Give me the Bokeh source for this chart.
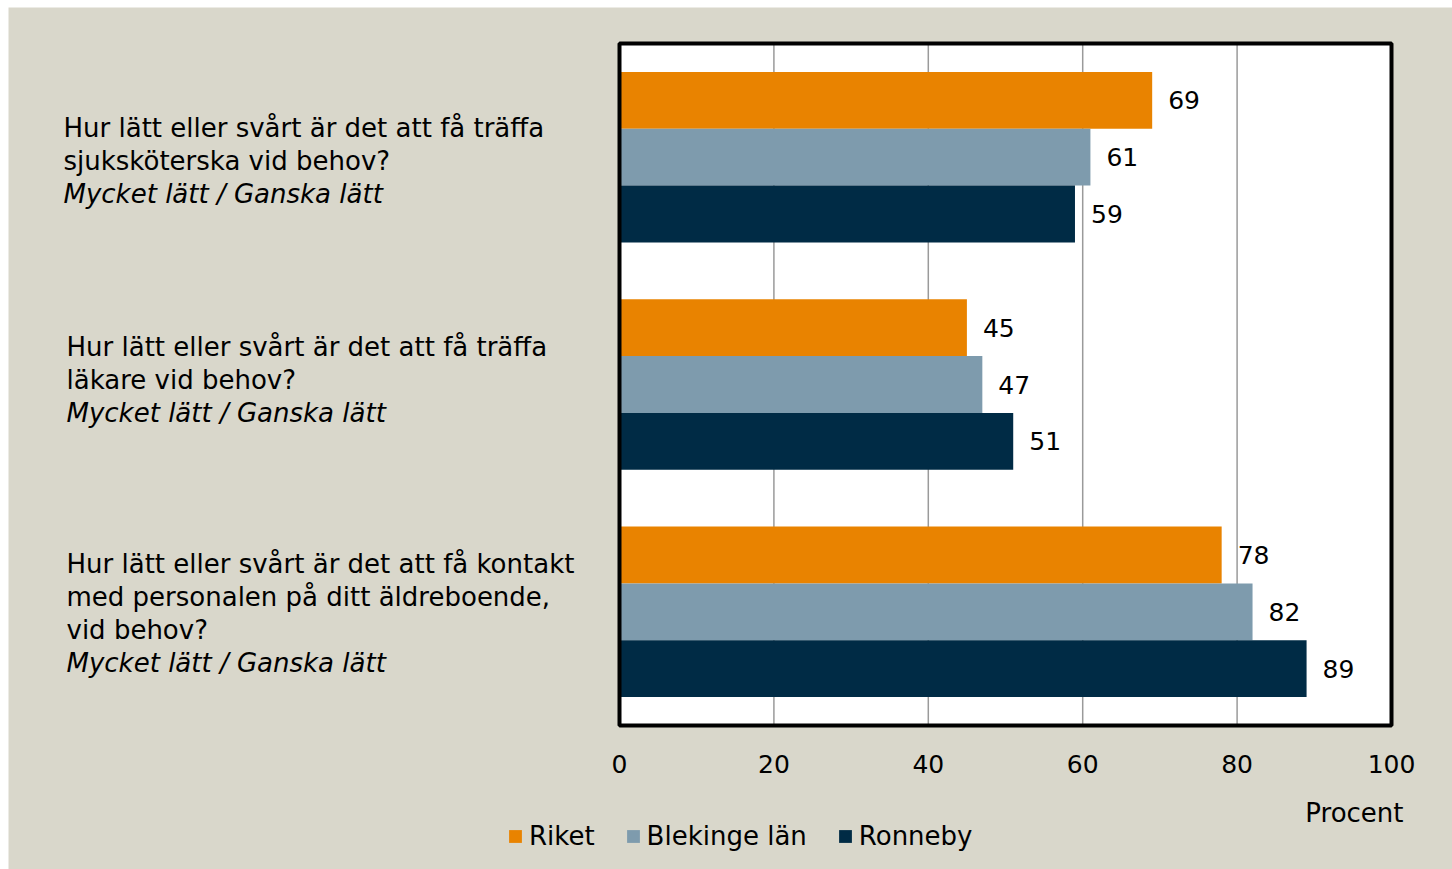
from bokeh.plotting import figure
from bokeh.models import Range1d, Legend, LegendItem, ColumnDataSource
from bokeh.core.properties import value
from bokeh.embed import file_html
from bokeh.resources import INLINE

# ---- data ----
questions = [
    ["Hur lätt eller svårt är det att få träffa", "sjuksköterska vid behov?"],
    ["Hur lätt eller svårt är det att få träffa", "läkare vid behov?"],
    ["Hur lätt eller svårt är det att få kontakt", "med personalen på ditt äldreboende,", "vid behov?"],
]
subtitle = "Mycket lätt / Ganska lätt"
series = ["Riket", "Blekinge län", "Ronneby"]
riket = [69, 45, 78]
blekinge = [61, 47, 82]
ronneby = [59, 51, 89]
x_ticks = [0, 20, 40, 60, 80, 100]
x_label = "Procent"

colors = ["#E98300", "#7E9BAD", "#002B45"]
FONT = "DejaVu Sans"
FS = "26px"      # words
FN = "25px"      # numbers
BG = "#D9D7CB"

# ---- geometry (pixels of the page) ----
W, H = 1452, 869
FL, FT = 8, 7                 # beige panel starts here
PX0, PX100 = 619, 1391        # plot area x = 0 and x = 100
PY_TOP, PY_BOT = 43, 725      # plot area top / bottom
n = len(questions)
sx = (PX100 - PX0) / 100.0
sy = (PY_BOT - PY_TOP) / n

x_range = Range1d((FL - PX0) / sx, (W - PX0) / sx)
y_range = Range1d(-(H - PY_BOT) / sy, n + (PY_TOP - FT) / sy)

p = figure(width=W, height=H, output_backend="svg", toolbar_location=None,
           x_range=x_range, y_range=y_range,
           min_border_left=FL, min_border_top=FT, min_border_right=0, min_border_bottom=0)
p.border_fill_color = "white"
p.background_fill_color = BG
p.outline_line_color = None
p.axis.visible = False
p.grid.visible = False

# plot area (white with black frame)
p.quad(left=[x_ticks[0]], right=[x_ticks[-1]], bottom=[0], top=[n],
       fill_color="white", line_color=None)
# vertical gridlines
p.segment(x0=x_ticks[1:-1], x1=x_ticks[1:-1], y0=[0] * (len(x_ticks) - 2),
          y1=[n] * (len(x_ticks) - 2), line_color="#9A9A9A", line_width=1.5)

centers = [n - 0.5 - i for i in range(n)]
offsets = [0.25, 0.0, -0.25]
all_vals = [riket, blekinge, ronneby]

renderers = []
for vals, col, off in zip(all_vals, colors, offsets):
    src = ColumnDataSource(dict(y=[c + off for c in centers], v=vals,
                                t=[str(v) for v in vals]))
    r = p.hbar(y="y", right="v", left=0, height=0.25, source=src,
               fill_color=col, line_color=None)
    renderers.append(r)
    p.text(x="v", y="y", text="t", source=src, x_offset=16, text_baseline="middle",
           text_align="left", text_font=value(FONT), text_font_size=FN, text_color="black")

# frame border on top of bars
p.quad(left=[x_ticks[0]], right=[x_ticks[-1]], bottom=[0], top=[n],
       fill_color=None, line_color="black", line_width=4)

# x tick labels
p.text(x=x_ticks, y=[-(763 - PY_BOT) / sy] * len(x_ticks), text=[str(t) for t in x_ticks],
       text_align="center", text_baseline="middle", text_font=value(FONT),
       text_font_size=FN, text_color="black")
# axis title
p.text(x=[(1403 - PX0) / sx], y=[-(812 - PY_BOT) / sy], text=[x_label],
       text_align="right", text_baseline="middle", text_font=value(FONT),
       text_font_size=FS, text_color="black")

# category labels (left of plot)
xpix = [63, 66, 66]
shift = [3.5, -5.0, 1.5]
LS = 33
for i, (lines, c) in enumerate(zip(questions, centers)):
    all_lines = lines + [subtitle]
    k = len(all_lines)
    ys = [c - (shift[i] + (j - (k - 1) / 2) * LS) / sy for j in range(k)]
    xs = [(xpix[i] - PX0) / sx] * k
    p.text(x=xs[:-1], y=ys[:-1], text=all_lines[:-1], text_align="left",
           text_baseline="middle", text_font=value(FONT), text_font_size=FS,
           text_color="black")
    p.text(x=xs[-1:], y=ys[-1:], text=all_lines[-1:], text_align="left",
           text_baseline="middle", text_font=value(FONT), text_font_size=FS,
           text_font_style="italic", text_color="black")

legend = Legend(items=[LegendItem(label=s, renderers=[r]) for s, r in zip(series, renderers)],
                orientation="horizontal", location=(507 - FL, H - 851),
                background_fill_alpha=0, border_line_color=None,
                glyph_width=16, glyph_height=16, label_standoff=6, spacing=30,
                padding=0, margin=0,
                label_text_font=FONT, label_text_font_size=FS, label_text_color="black")
p.add_layout(legend)

open("out.html", "w").write(file_html(p, INLINE))
